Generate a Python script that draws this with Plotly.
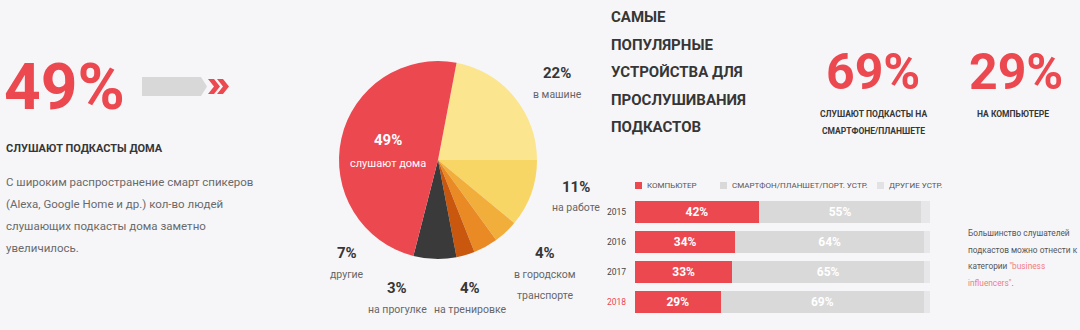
import plotly.graph_objects as go

W, H = 1080, 330
BG = "#F6F6F9"
RED = "#EC4850"
DARK = "#363636"
COND = "Roboto, Lato, sans-serif"

# ---- pie data ----
pie_labels = ["в машине", "на работе", "в городском транспорте", "на тренировке",
              "на прогулке", "другие", "слушают дома"]
pie_values = [22, 11, 4, 4, 3, 7, 49]
pie_colors = ["#FCE58F", "#F7D665", "#F2AE3B", "#E98A25", "#C9570E", "#3A3A3A", "#EC4850"]

# ---- bar data ----
years = ["2015", "2016", "2017", "2018"]
computer = [42, 34, 33, 29]
smartphone = [55, 64, 65, 69]
other_dev = [3, 2, 2, 2]
series_names = ["КОМПЬЮТЕР", "СМАРТФОН/ПЛАНШЕТ/ПОРТ. УСТР.", "ДРУГИЕ УСТР."]
bar_colors = ["#EC4850", "#D9D9D9", "#E7E7E9"]


def px(x):
    return x / W


def py(y):
    return 1 - y / H


fig = go.Figure()

# first slice ("в машине") ends exactly at 3 o'clock
fig.add_trace(go.Pie(
    labels=pie_labels, values=pie_values, sort=False, direction="clockwise",
    rotation=90 - 360 * pie_values[0] / sum(pie_values),
    marker=dict(colors=pie_colors, line=dict(width=0)),
    textinfo="none", hoverinfo="label+percent", showlegend=False,
    domain=dict(x=[px(339), px(537)], y=[py(259), py(61)]),
))

year_ticks = [f'<span style="color:{RED if y == "2018" else "#444"}">{y}</span>' for y in years]

for name, vals, col in zip(series_names, [computer, smartphone, other_dev], bar_colors):
    show_text = col != bar_colors[2]
    fig.add_trace(go.Bar(
        y=years, x=vals, name=name, orientation="h",
        marker=dict(color=col, line=dict(width=0)),
        text=[f"{v}%" for v in vals] if show_text else None,
        textposition="inside", insidetextanchor="middle",
        textfont=dict(family=COND, size=12, color="#FFFFFF", weight="bold"),
        showlegend=False, xaxis="x", yaxis="y",
    ))

fig.update_layout(
    width=W, height=H, margin=dict(l=0, r=0, t=0, b=0),
    paper_bgcolor=BG, plot_bgcolor=BG, barmode="stack", bargap=0.28,
    xaxis=dict(domain=[px(635), px(930)], range=[0, 100], visible=False, fixedrange=True),
    yaxis=dict(domain=[py(317), py(197)], categoryorder="array", categoryarray=years,
               autorange="reversed", tickmode="array", tickvals=years, ticktext=year_ticks,
               showgrid=False, zeroline=False, showline=False, ticks="",
               tickfont=dict(family=COND, size=8.5), ticklabelstandoff=8),
    font=dict(family=COND),
)

ann = []


def T(x, y, text, size, color, bold=False, xa="left", ya="middle", fam=COND):
    ann.append(dict(x=px(x), y=py(y), xref="paper", yref="paper", text=text, showarrow=False,
                    xanchor=xa, yanchor=ya,
                    font=dict(family=fam, size=size, color=color, weight="bold" if bold else "normal")))


# Left block
T(2, 88, "49%", 64, RED, True)
T(4, 148, "СЛУШАЮТ ПОДКАСТЫ ДОМА", 11, DARK, True)
body = ["С широким распространение смарт спикеров",
        "(Alexa, Google Home и др.) кол-во людей",
        "слушающих подкасты дома заметно",
        "увеличилось."]
for i, line in enumerate(body):
    T(4, 182 + i * 22, line, 11.5, "#6A6A6A")

# Pie labels
T(388, 140, "49%", 15, "#FFFFFF", True, "center")
T(388, 163, "слушают дома", 11, "#FFFFFF", False, "center")
pie_lbls = [
    (557, 73, "22%", ["в машине"]),
    (576, 187, "11%", ["на работе"]),
    (545, 253, "4%", ["в городском", "транспорте"]),
    (470, 288, "4%", ["на тренировке"]),
    (397, 288, "3%", ["на прогулке"]),
    (347, 253, "7%", ["другие"]),
]
for x, y, pct, lines in pie_lbls:
    T(x, y, pct, 15, DARK, True, "center")
    for j, l in enumerate(lines):
        T(x, y + 21 + j * 21, l, 10.5, "#666666", False, "center")

# Right header
hdr = ["САМЫЕ", "ПОПУЛЯРНЫЕ", "УСТРОЙСТВА ДЛЯ", "ПРОСЛУШИВАНИЯ", "ПОДКАСТОВ"]
for i, l in enumerate(hdr):
    T(609, 17 + i * 27.5, l, 15, DARK, True)

T(873, 72, "69%", 50, RED, True, "center")
T(1016, 72, "29%", 50, RED, True, "center")
T(873, 114, "СЛУШАЮТ ПОДКАСТЫ НА", 8.5, DARK, True, "center")
T(873, 131, "СМАРТФОНЕ/ПЛАНШЕТЕ", 8.5, DARK, True, "center")
T(1013, 114, "НА КОМПЬЮТЕРЕ", 8.5, DARK, True, "center")

# Legend
leg_x = [635, 720, 877]
shapes = []
for x, name, col in zip(leg_x, series_names, bar_colors):
    shapes.append(dict(type="rect", xref="paper", yref="paper",
                       x0=px(x), x1=px(x + 7), y0=py(189), y1=py(182),
                       fillcolor=col if col != bar_colors[2] else "#E2E2E4", line=dict(width=0)))
    T(x + 10, 185.5, name, 8, "#555555")

# Right note
note = ["Большинство слушателей", "подкастов можно отнести к",
        'категории <span style="color:#F07C80">"business</span>',
        '<span style="color:#F07C80">influencers"</span>.']
for i, l in enumerate(note):
    T(966, 233 + i * 16.5, l, 8.3, "#555555")

# Arrow decoration
def path(pts):
    return "M " + " L ".join(f"{px(a):.5f},{py(b):.5f}" for a, b in pts) + " Z"

shapes.append(dict(type="path", xref="paper", yref="paper",
                   path=path([(142, 77), (201, 77), (207, 86.5), (201, 96), (142, 96)]),
                   fillcolor="#D8D8D8", line=dict(width=0)))
for off in (0, 9):
    shapes.append(dict(type="path", xref="paper", yref="paper",
                       path=path([(208 + off, 79), (214 + off, 79), (220 + off, 86.5),
                                  (214 + off, 94), (208 + off, 94), (214 + off, 86.5)]),
                       fillcolor=RED, line=dict(width=0)))

fig.update_layout(annotations=ann, shapes=shapes)
fig.write_html("out.html")
